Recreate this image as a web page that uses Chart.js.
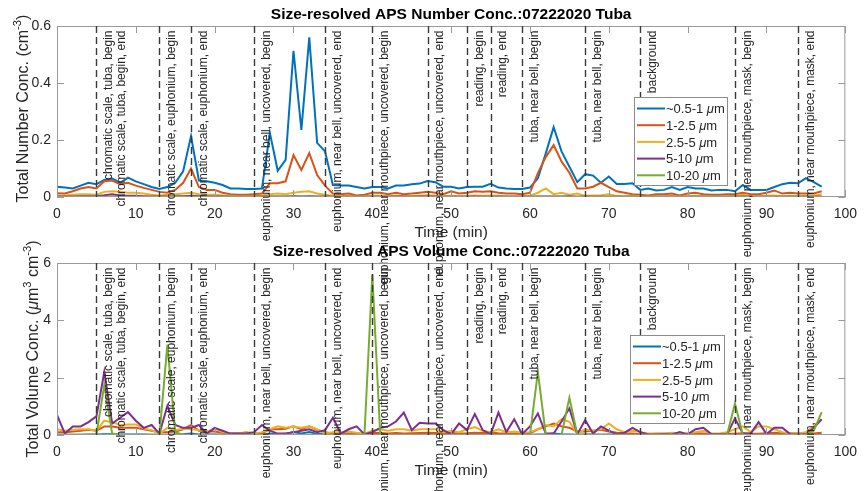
<!DOCTYPE html>
<html>
<head>
<meta charset="utf-8">
<script src="https://cdn.jsdelivr.net/npm/chart.js@4.4.1/dist/chart.umd.min.js"></script>
<style>
  html, body { margin: 0; padding: 0; background: #ffffff; }
  #wrap { position: relative; width: 866px; height: 491px; overflow: hidden; background: #ffffff; }
  #wrap canvas { position: absolute; left: 0; top: 0; }
</style>
</head>
<body>
<div id="wrap">
  <canvas id="numChart" width="866" height="491"></canvas>
  <canvas id="volChart" width="866" height="491"></canvas>
</div>
<script>
// ---- sampling times (min) ----
const minutes = [
  0,1,2,3,4,5,6,7,8,9,10,11,12,13,14,15,16,17,18,19,
  20,21,22,23,24,25,26,27,28,29,30,31,32,33,34,35,36,37,38,39,
  40,41,42,43,44,45,46,47,48,49,50,51,52,53,54,55,56,57,58,59,
  60,61,62,63,64,65,66,67,68,69,70,71,72,73,74,75,76,77,78,79,
  80,81,82,83,84,85,86,87,88,89,90,91,92,93,94,95,96,97
];

// ---- size bins ----
const binLabels = ['~0.5-1', '1-2.5', '2.5-5', '5-10', '10-20'];
const binColors = ['#0072BD', '#D95319', '#EDB120', '#7E2F8E', '#77AC30'];

// ---- number concentration (cm^-3) ----
const numFine = [
  0.036,0.033,0.030,0.040,0.050,0.045,0.060,0.065,0.050,0.068,
  0.055,0.045,0.035,0.028,0.035,0.050,0.090,0.214,0.058,0.055,
  0.050,0.042,0.030,0.030,0.028,0.028,0.030,0.225,0.092,0.130,
  0.513,0.235,0.560,0.190,0.160,0.042,0.040,0.040,0.035,0.030,
  0.035,0.035,0.030,0.040,0.040,0.045,0.047,0.056,0.052,0.036,
  0.036,0.030,0.035,0.036,0.036,0.046,0.033,0.030,0.028,0.028,
  0.033,0.066,0.153,0.245,0.160,0.106,0.052,0.080,0.075,0.050,
  0.072,0.046,0.046,0.048,0.025,0.030,0.023,0.025,0.035,0.025,
  0.035,0.030,0.030,0.023,0.025,0.025,0.020,0.042,0.025,0.025,
  0.025,0.035,0.045,0.050,0.048,0.066,0.052,0.036
];
const numMid = [
  0.013,0.012,0.020,0.030,0.035,0.030,0.055,0.058,0.045,0.050,
  0.040,0.032,0.025,0.018,0.015,0.025,0.050,0.100,0.035,0.025,
  0.025,0.015,0.010,0.008,0.008,0.010,0.012,0.048,0.048,0.055,
  0.147,0.095,0.154,0.077,0.040,0.012,0.010,0.012,0.005,0.008,
  0.015,0.015,0.010,0.015,0.010,0.012,0.015,0.018,0.015,0.010,
  0.020,0.012,0.015,0.020,0.018,0.020,0.015,0.012,0.012,0.010,
  0.015,0.084,0.140,0.182,0.125,0.085,0.030,0.030,0.036,0.050,
  0.035,0.020,0.015,0.010,0.008,0.005,0.010,0.010,0.012,0.005,
  0.012,0.015,0.010,0.008,0.008,0.010,0.010,0.015,0.010,0.010,
  0.015,0.023,0.012,0.015,0.012,0.012,0.012,0.020
];
const numCoarse = [
  0.005,0.005,0.008,0.010,0.010,0.008,0.018,0.020,0.018,0.015,
  0.015,0.012,0.008,0.005,0.008,0.010,0.012,0.015,0.010,0.008,
  0.008,0.005,0.004,0.003,0.003,0.004,0.005,0.010,0.012,0.010,
  0.015,0.018,0.020,0.012,0.008,0.004,0.003,0.004,0.002,0.003,
  0.005,0.004,0.003,0.005,0.003,0.004,0.005,0.006,0.005,0.003,
  0.004,0.003,0.004,0.005,0.004,0.005,0.004,0.003,0.003,0.003,
  0.005,0.015,0.030,0.010,0.015,0.008,0.012,0.004,0.005,0.006,
  0.010,0.004,0.003,0.004,0.002,0.002,0.003,0.002,0.004,0.002,
  0.003,0.004,0.003,0.002,0.002,0.003,0.004,0.008,0.003,0.003,
  0.004,0.005,0.003,0.004,0.003,0.004,0.005,0.010
];
const numLarge = [
  0.002,0.002,0.002,0.003,0.003,0.003,0.006,0.010,0.005,0.004,
  0.004,0.003,0.002,0.002,0.002,0.003,0.003,0.004,0.003,0.002,
  0.002,0.002,0.001,0.001,0.001,0.001,0.002,0.002,0.002,0.002,
  0.003,0.002,0.003,0.002,0.002,0.001,0.001,0.001,0.001,0.001,
  0.001,0.001,0.001,0.002,0.002,0.001,0.002,0.002,0.002,0.001,
  0.001,0.001,0.001,0.002,0.001,0.001,0.002,0.001,0.001,0.001,
  0.001,0.002,0.002,0.002,0.002,0.003,0.001,0.002,0.001,0.001,
  0.001,0.001,0.001,0.001,0.001,0.001,0.001,0.001,0.001,0.001,
  0.001,0.001,0.001,0.001,0.001,0.001,0.001,0.002,0.001,0.001,
  0.001,0.001,0.001,0.001,0.001,0.001,0.001,0.002
];
const numHuge = [
  0.001,0.001,0.001,0.001,0.001,0.001,0.001,0.002,0.001,0.001,
  0.001,0.001,0.001,0.001,0.002,0.001,0.001,0.001,0.001,0.001,
  0.001,0.001,0.001,0.001,0.001,0.001,0.001,0.001,0.001,0.001,
  0.001,0.001,0.001,0.001,0.001,0.001,0.001,0.001,0.001,0.001,
  0.002,0.001,0.001,0.001,0.001,0.001,0.001,0.001,0.001,0.001,
  0.001,0.001,0.001,0.001,0.001,0.001,0.001,0.001,0.001,0.001,
  0.001,0.002,0.001,0.001,0.001,0.001,0.001,0.001,0.001,0.001,
  0.001,0.001,0.001,0.001,0.001,0.001,0.001,0.001,0.001,0.001,
  0.001,0.001,0.001,0.001,0.001,0.001,0.001,0.001,0.001,0.001,
  0.001,0.001,0.001,0.001,0.001,0.001,0.001,0.001
];

// ---- volume concentration (um^3 cm^-3) ----
const volFine = [
  0.01,0.01,0.01,0.01,0.02,0.02,0.03,0.03,0.02,0.02,
  0.02,0.02,0.01,0.01,0.01,0.02,0.03,0.05,0.02,0.02,
  0.02,0.01,0.01,0.01,0.01,0.01,0.01,0.05,0.03,0.04,
  0.10,0.05,0.10,0.04,0.03,0.01,0.01,0.01,0.01,0.01,
  0.01,0.01,0.01,0.01,0.01,0.01,0.01,0.01,0.01,0.01,
  0.01,0.01,0.01,0.01,0.01,0.01,0.01,0.01,0.01,0.01,
  0.01,0.02,0.03,0.05,0.03,0.02,0.01,0.02,0.02,0.01,
  0.02,0.01,0.01,0.01,0.01,0.01,0.01,0.01,0.01,0.01,
  0.01,0.01,0.01,0.01,0.01,0.01,0.01,0.01,0.01,0.01,
  0.01,0.01,0.01,0.01,0.01,0.02,0.01,0.01
];
const volMid = [
  0.10,0.10,0.12,0.15,0.18,0.15,0.30,0.30,0.25,0.25,
  0.25,0.20,0.15,0.10,0.10,0.12,0.20,0.35,0.15,0.12,
  0.12,0.08,0.05,0.05,0.05,0.05,0.06,0.20,0.20,0.22,
  0.30,0.20,0.30,0.18,0.10,0.05,0.05,0.06,0.03,0.04,
  0.08,0.07,0.05,0.07,0.05,0.06,0.07,0.08,0.07,0.05,
  0.08,0.05,0.06,0.08,0.07,0.08,0.06,0.05,0.05,0.04,
  0.06,0.20,0.30,0.40,0.30,0.25,0.12,0.12,0.15,0.18,
  0.12,0.08,0.06,0.05,0.03,0.03,0.04,0.04,0.05,0.03,
  0.05,0.06,0.05,0.03,0.03,0.04,0.04,0.06,0.04,0.04,
  0.06,0.08,0.05,0.06,0.05,0.05,0.05,0.08
];
const volCoarse = [
  0.20,0.15,0.18,0.20,0.20,0.15,0.50,0.45,0.35,0.37,
  0.37,0.23,0.17,0.05,0.25,0.17,0.23,0.20,0.17,0.10,
  0.23,0.10,0.05,0.05,0.10,0.05,0.10,0.20,0.30,0.25,
  0.30,0.25,0.30,0.20,0.05,0.10,0.10,0.12,0.08,0.05,
  0.15,0.20,0.15,0.20,0.20,0.15,0.20,0.20,0.20,0.10,
  0.15,0.10,0.20,0.28,0.15,0.10,0.20,0.10,0.12,0.08,
  0.10,0.20,0.35,0.30,0.55,0.46,0.05,0.20,0.15,0.20,
  0.40,0.20,0.10,0.15,0.10,0.05,0.05,0.05,0.08,0.05,
  0.05,0.10,0.15,0.05,0.05,0.10,0.20,0.30,0.10,0.30,
  0.30,0.20,0.10,0.05,0.05,0.10,0.30,0.55
];
const volLarge = [
  0.70,0.05,0.30,0.30,0.45,0.65,2.20,0.40,0.60,0.80,
  0.50,0.25,0.35,0.05,1.02,0.35,0.25,0.25,0.35,0.05,
  0.25,0.15,0.05,0.05,0.05,0.10,0.35,0.15,0.05,0.05,
  0.10,0.15,0.20,0.10,0.17,0.60,0.05,0.20,0.30,0.03,
  0.10,0.25,0.30,0.47,0.78,0.17,0.43,0.40,0.40,0.17,
  0.03,0.40,0.17,0.73,0.17,0.03,0.78,0.10,0.55,0.03,
  0.30,0.75,0.05,0.05,0.47,0.93,0.03,0.52,0.05,0.30,
  0.15,0.03,0.08,0.25,0.10,0.02,0.02,0.03,0.02,0.10,
  0.02,0.20,0.25,0.03,0.03,0.02,0.58,0.05,0.05,0.45,
  0.03,0.25,0.25,0.03,0.02,0.02,0.25,0.55
];
const volHuge = [
  0.01,0.01,0.01,0.01,0.01,0.01,1.75,0.05,0.01,0.01,
  0.01,0.01,0.01,0.01,3.15,0.10,0.01,0.01,0.01,0.01,
  0.01,0.01,0.01,0.01,0.01,0.01,0.01,0.01,0.01,0.01,
  0.01,0.01,0.01,0.01,0.01,0.01,0.01,0.01,0.01,0.01,
  5.60,0.01,0.01,0.01,0.01,0.01,0.01,0.01,0.01,0.01,
  0.01,0.01,0.01,0.01,0.01,0.01,0.01,0.01,0.01,0.01,
  0.01,2.20,0.01,0.01,0.01,1.30,0.01,0.01,0.01,0.01,
  0.01,0.01,0.01,0.01,0.01,0.01,0.01,0.01,0.01,0.01,
  0.01,0.01,0.01,0.01,0.01,0.01,1.10,0.01,0.01,0.01,
  0.01,0.01,0.01,0.01,0.01,0.01,0.15,0.80
];

// ---- event markers (min) and notes ----
const eventMinutes = [5, 13, 17, 25, 34, 40, 47, 52, 55, 59, 67, 74, 86, 94];
const noteMinutes  = [5, 6.6, 13, 17, 25, 34, 40, 47, 52, 55, 59, 67, 74, 86, 94];
const noteTexts = [
  'chromatic scale, tuba, begin',
  'chromatic scale, tuba, begin, end',
  'chromatic scale, euphonium, begin',
  'chromatic scale, euphonium, end',
  'euphonium, near bell, uncovered, begin',
  'euphonium, near bell, uncovered, end',
  'euphonium, near mouthpiece, uncovered, begin',
  'euphonium, near mouthpiece, uncovered, end',
  'reading, begin',
  'reading, end',
  'tuba, near bell, begin',
  'tuba, near bell, begin',
  'background',
  'euphonium, near mouthpiece, mask, begin',
  'euphonium, near mouthpiece, mask, end'
];

// ---- axis ticks ----
const timeTicks = [0, 10, 20, 30, 40, 50, 60, 70, 80, 90, 100];
const numTicks = [0, 0.2, 0.4, 0.6];
const volTicks = [0, 2, 4, 6];

const FONT = "'Liberation Sans', Arial, Helvetica, sans-serif";
const W = 866, H = 491;

// draw a run list (plain / italic / superscript pieces) centred on a point
function runsWidth(ctx, runs, size) {
  let w = 0;
  runs.forEach(r => {
    const s = r.sup ? size * 0.7 : size;
    ctx.font = (r.italic ? 'italic ' : '') + (r.bold ? 'bold ' : '') + s + 'px ' + FONT;
    w += ctx.measureText(r.t).width;
  });
  return w;
}
function drawRuns(ctx, runs, size, x, y, rotated, align) {
  ctx.save();
  ctx.translate(x, y);
  if (rotated) ctx.rotate(-Math.PI / 2);
  ctx.textBaseline = 'alphabetic';
  ctx.textAlign = 'left';
  const total = runsWidth(ctx, runs, size);
  let cx = align === 'left' ? 0 : -total / 2;
  runs.forEach(r => {
    const s = r.sup ? size * 0.7 : size;
    ctx.font = (r.italic ? 'italic ' : '') + (r.bold ? 'bold ' : '') + s + 'px ' + FONT;
    ctx.fillText(r.t, cx, r.sup ? -size * 0.42 : 0);
    cx += ctx.measureText(r.t).width;
  });
  ctx.restore();
}

function decorPlugin(cfg) {
  return {
    id: 'decor',
    afterDatasetsDraw(chart) {
      const ctx = chart.ctx;
      const a = chart.chartArea;
      const xs = chart.scales.x, ys = chart.scales.y;

      // axes box with inward ticks
      ctx.save();
      ctx.strokeStyle = '#9a9a9a';
      ctx.lineWidth = 1;
      ctx.strokeRect(a.left + 0.5, a.top + 0.5, a.right - a.left - 1, a.bottom - a.top - 1);
      ctx.beginPath();
      timeTicks.forEach(v => {
        const px = Math.round(xs.getPixelForValue(v)) + 0.5;
        ctx.moveTo(px, a.bottom); ctx.lineTo(px, a.bottom - 7);
        ctx.moveTo(px, a.top); ctx.lineTo(px, a.top + 7);
      });
      cfg.ticks.forEach(v => {
        const py = Math.round(ys.getPixelForValue(v)) + 0.5;
        ctx.moveTo(a.left, py); ctx.lineTo(a.left + 7, py);
        ctx.moveTo(a.right, py); ctx.lineTo(a.right - 7, py);
      });
      ctx.stroke();
      ctx.restore();

      // event markers
      ctx.save();
      ctx.strokeStyle = '#3a3a3a';
      ctx.lineWidth = 1.4;
      ctx.setLineDash([7, 4]);
      ctx.beginPath();
      eventMinutes.forEach(m => {
        const px = Math.round(xs.getPixelForValue(m)) + 0.5;
        ctx.moveTo(px, a.top); ctx.lineTo(px, a.bottom);
      });
      ctx.stroke();
      ctx.restore();

      // event notes, written upward and ending just under the top edge
      ctx.save();
      ctx.fillStyle = '#262626';
      ctx.font = '12px ' + FONT;
      ctx.textAlign = 'right';
      ctx.textBaseline = 'middle';
      noteMinutes.forEach((m, i) => {
        const px = xs.getPixelForValue(m) + 12.5;
        ctx.save();
        ctx.translate(px, a.top + 4.5);
        ctx.rotate(-Math.PI / 2);
        ctx.fillText(noteTexts[i], 0, 0);
        ctx.restore();
      });
      ctx.restore();
    },
    afterDraw(chart) {
      const ctx = chart.ctx;
      const a = chart.chartArea;
      ctx.save();
      // title
      ctx.fillStyle = '#000000';
      ctx.font = 'bold 15.5px ' + FONT;
      ctx.textAlign = 'center';
      ctx.textBaseline = 'alphabetic';
      ctx.fillText(cfg.title, (a.left + a.right) / 2, a.top - 7);
      // x-axis title
      ctx.fillStyle = '#262626';
      ctx.font = '15.5px ' + FONT;
      ctx.fillText('Time (min)', (a.left + a.right) / 2, a.bottom + 39.5);
      // y-axis title
      drawRuns(ctx, cfg.yTitle, 16, cfg.yTitleX, (a.top + a.bottom) / 2 + cfg.yTitleShift, true);

      // legend
      const L = cfg.legend;
      ctx.fillStyle = '#ffffff';
      ctx.fillRect(L.x, L.y, L.w, L.h);
      ctx.strokeStyle = '#8c8c8c';
      ctx.lineWidth = 1;
      ctx.strokeRect(L.x + 0.5, L.y + 0.5, L.w, L.h);
      binLabels.forEach((lab, i) => {
        const ry = L.y + 11.5 + i * 16.7;
        ctx.strokeStyle = binColors[i];
        ctx.lineWidth = 2;
        ctx.beginPath();
        ctx.moveTo(L.x + 3, ry); ctx.lineTo(L.x + 31, ry);
        ctx.stroke();
        ctx.fillStyle = '#262626';
        drawRuns(ctx, [{ t: lab + ' ' }, { t: 'μ', italic: true }, { t: 'm' }], 13, L.x + 32, ry + 4.6, false, 'left');
      });
      ctx.restore();
    }
  };
}

function buildChart(id, series, cfg) {
  return new Chart(document.getElementById(id), {
    type: 'line',
    data: {
      datasets: binLabels.map((lab, i) => ({
        label: lab + ' μm',
        data: minutes.map((m, k) => ({ x: m, y: series[i][k] })),
        borderColor: binColors[i],
        backgroundColor: binColors[i],
        borderWidth: 2,
        pointRadius: 0,
        tension: 0,
        fill: false,
        order: binLabels.length - i
      }))
    },
    options: {
      responsive: false,
      animation: false,
      devicePixelRatio: 1,
      events: [],
      layout: { padding: { top: cfg.top, left: 0, right: W - 853, bottom: 0 } },
      plugins: { legend: { display: false }, tooltip: { enabled: false }, title: { display: false } },
      scales: {
        x: {
          type: 'linear', min: 0, max: 100,
          afterBuildTicks: s => { s.ticks = timeTicks.map(v => ({ value: v })); },
          ticks: { font: { family: FONT, size: 14 }, color: '#262626', maxRotation: 0, padding: 9 },
          grid: { display: false, drawTicks: false },
          border: { display: false },
          afterFit: s => { s.height = H - cfg.bottom; }
        },
        y: {
          type: 'linear', min: 0, max: cfg.ticks[cfg.ticks.length - 1],
          afterBuildTicks: s => { s.ticks = cfg.ticks.map(v => ({ value: v })); },
          ticks: { font: { family: FONT, size: 14 }, color: '#262626', padding: 6,
                   callback: v => String(v) },
          grid: { display: false, drawTicks: false },
          border: { display: false },
          afterFit: s => { s.width = 57; }
        }
      }
    },
    plugins: [decorPlugin(cfg)]
  });
}

buildChart('numChart', [numFine, numMid, numCoarse, numLarge, numHuge], {
  top: 26, bottom: 197, ticks: numTicks,
  title: 'Size-resolved APS Number Conc.:07222020 Tuba',
  yTitle: [{ t: 'Total Number Conc. (cm' }, { t: '-3', sup: true }, { t: ')' }],
  yTitleX: 28, yTitleShift: -3,
  legend: { x: 634, y: 97, w: 93, h: 88 }
});

buildChart('volChart', [volFine, volMid, volCoarse, volLarge, volHuge], {
  top: 263, bottom: 435, ticks: volTicks,
  title: 'Size-resolved APS Volume Conc.:07222020 Tuba',
  yTitle: [{ t: 'Total Volume Conc. (' }, { t: 'μ', italic: true }, { t: 'm' }, { t: '3', sup: true },
           { t: ' cm' }, { t: '-3', sup: true }, { t: ')' }],
  yTitleX: 38, yTitleShift: 0,
  legend: { x: 630, y: 335, w: 94, h: 88 }
});
</script>
</body>
</html>
